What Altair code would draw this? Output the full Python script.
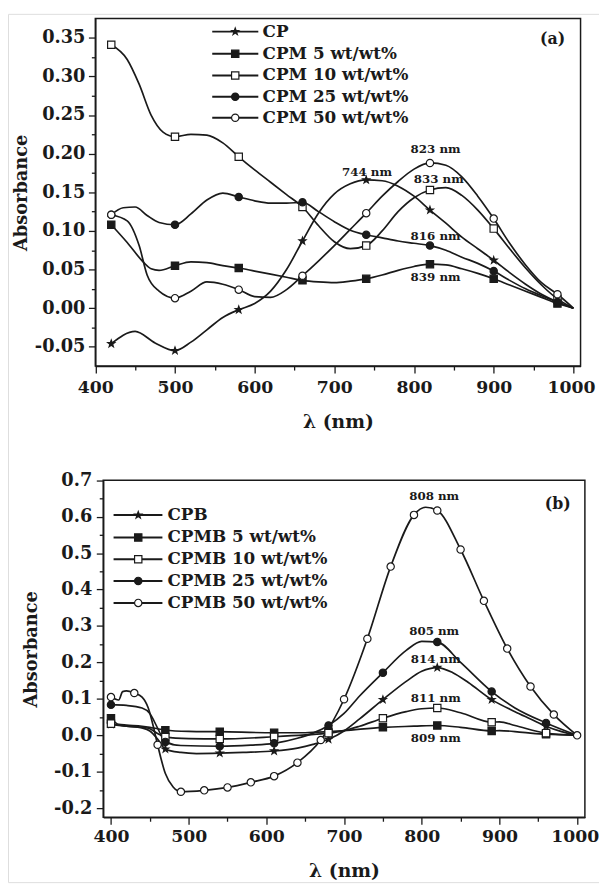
import altair as alt
import pandas as pd

FONT = "DejaVu Serif"
INK = "#1a1a1a"
STAR = ("M0,-1L0.235,-0.324L0.951,-0.309L0.38,0.124L0.588,0.809L0,0.4"
        "L-0.588,0.809L-0.38,0.124L-0.951,-0.309L-0.235,-0.324Z")

# ---------------- Panel (a) data ----------------
A_SERIES = ["CP", "CPM 5 wt/wt%", "CPM 10 wt/wt%", "CPM 25 wt/wt%", "CPM 50 wt/wt%"]
A_MARKER_NM = [420, 500, 580, 660, 740, 820, 900, 980]

A_CP_NM = [420, 450, 475, 500, 520, 540, 560, 580, 600, 620, 640, 660, 680, 700, 720,
           740, 760, 780, 800, 820, 840, 860, 880, 900, 920, 940, 960, 980, 1000]
A_CP_ABS = [-0.046, -0.030, -0.045, -0.055, -0.044, -0.028, -0.012, -0.002, 0.006, 0.022,
            0.050, 0.087, 0.123, 0.148, 0.161, 0.166, 0.165, 0.158, 0.145, 0.127,
            0.110, 0.092, 0.077, 0.062, 0.046, 0.031, 0.018, 0.008, 0.0]

A_CPM5_NM = [420, 440, 460, 470, 480, 500, 520, 540, 560, 580, 600, 620, 640, 660, 680,
             700, 720, 740, 760, 780, 800, 820, 840, 860, 880, 900, 920, 940, 960, 980, 1000]
A_CPM5_ABS = [0.108, 0.085, 0.060, 0.051, 0.049, 0.055, 0.060, 0.059, 0.055, 0.052,
              0.048, 0.044, 0.040, 0.036, 0.034, 0.033, 0.035, 0.038, 0.043, 0.049,
              0.054, 0.057, 0.056, 0.051, 0.045, 0.038, 0.030, 0.022, 0.014, 0.006, 0.0]

A_CPM10_NM = [420, 440, 455, 470, 485, 500, 520, 540, 560, 580, 600, 620, 640, 660, 680,
              700, 720, 740, 760, 780, 800, 820, 840, 860, 880, 900, 920, 940, 960, 980, 1000]
A_CPM10_ABS = [0.341, 0.322, 0.290, 0.250, 0.228, 0.222, 0.225, 0.224, 0.214, 0.196,
               0.179, 0.163, 0.147, 0.131, 0.107, 0.086, 0.077, 0.081, 0.100, 0.125,
               0.143, 0.153, 0.156, 0.146, 0.127, 0.103, 0.077, 0.052, 0.030, 0.012, 0.0]

A_CPM25_NM = [420, 435, 450, 465, 480, 500, 520, 540, 560, 580, 600, 620, 640, 660, 680,
              700, 720, 740, 760, 780, 800, 820, 840, 860, 880, 900, 920, 940, 960, 980, 1000]
A_CPM25_ABS = [0.121, 0.130, 0.131, 0.120, 0.111, 0.108, 0.122, 0.140, 0.149, 0.144,
               0.139, 0.136, 0.136, 0.137, 0.125, 0.112, 0.101, 0.095, 0.091, 0.087,
               0.084, 0.081, 0.075, 0.066, 0.058, 0.048, 0.036, 0.025, 0.016, 0.008, 0.0]

A_CPM50_NM = [420, 440, 455, 465, 480, 500, 520, 540, 560, 580, 600, 620, 640, 660, 680,
              700, 720, 740, 760, 780, 800, 820, 840, 860, 880, 900, 920, 940, 960, 980, 1000]
A_CPM50_ABS = [0.121, 0.113, 0.081, 0.043, 0.022, 0.013, 0.022, 0.034, 0.031, 0.024,
               0.015, 0.014, 0.024, 0.042, 0.061, 0.081, 0.102, 0.123, 0.145, 0.164,
               0.180, 0.188, 0.185, 0.170, 0.145, 0.116, 0.084, 0.056, 0.033, 0.018, 0.0]

A_ANN_TEXT = ["823 nm", "744 nm", "833 nm", "816 nm", "839 nm"]
A_ANN_NM = [827, 741, 831, 827, 827]
A_ANN_ABS = [0.206, 0.176, 0.167, 0.094, 0.040]
A_TAG = ["(a)"]
A_TAG_NM = [974]
A_TAG_ABS = [0.349]

# ---------------- Panel (b) data ----------------
B_SERIES = ["CPB", "CPMB 5 wt/wt%", "CPMB 10 wt/wt%", "CPMB 25 wt/wt%", "CPMB 50 wt/wt%"]
B_MARKER_NM = [400, 470, 540, 610, 680, 750, 820, 890, 960]
B_MARKER50_NM = [400, 430, 460, 490, 520, 550, 580, 610, 640, 670, 700, 730, 760, 790,
                 820, 850, 880, 910, 940, 970, 1000]

B_CPB_NM = [400, 420, 440, 450, 460, 470, 490, 510, 540, 570, 610, 640, 660, 680, 700,
            720, 750, 780, 800, 820, 840, 860, 890, 920, 940, 960, 980, 1000]
B_CPB_ABS = [0.030, 0.025, 0.020, 0.012, -0.010, -0.038, -0.047, -0.050, -0.049, -0.047,
             -0.043, -0.035, -0.025, -0.011, 0.012, 0.045, 0.098, 0.148, 0.176, 0.186,
             0.172, 0.145, 0.098, 0.065, 0.045, 0.025, 0.010, 0.0]

B_CPMB5_NM = [400, 410, 420, 440, 450, 460, 470, 500, 540, 610, 650, 680, 700, 750, 790,
              820, 850, 890, 900, 930, 960, 1000]
B_CPMB5_ABS = [0.047, 0.030, 0.028, 0.025, 0.022, 0.018, 0.014, 0.011, 0.010, 0.007,
               0.007, 0.010, 0.013, 0.022, 0.025, 0.027, 0.022, 0.012, 0.013, 0.008,
               0.003, 0.0]

B_CPMB10_NM = [400, 420, 440, 450, 460, 470, 500, 540, 610, 650, 680, 700, 720, 750, 780,
               800, 820, 850, 890, 900, 920, 960, 1000]
B_CPMB10_ABS = [0.032, 0.025, 0.022, 0.018, 0.005, -0.005, -0.009, -0.010, -0.004, 0.001,
                0.006, 0.013, 0.025, 0.047, 0.065, 0.073, 0.075, 0.062, 0.036, 0.037,
                0.027, 0.006, 0.0]

B_CPMB25_NM = [400, 420, 440, 450, 460, 470, 490, 540, 580, 610, 640, 660, 680, 700, 720,
               750, 780, 800, 820, 850, 890, 920, 960, 1000]
B_CPMB25_ABS = [0.084, 0.082, 0.075, 0.060, 0.020, -0.018, -0.028, -0.030, -0.027, -0.022,
                -0.008, 0.006, 0.027, 0.060, 0.108, 0.172, 0.233, 0.258, 0.256, 0.200,
                0.120, 0.075, 0.034, 0.0]

B_CPMB50_NM = [400, 410, 415, 420, 430, 440, 448, 455, 460, 470, 480, 490, 520, 550, 580,
               610, 640, 670, 700, 730, 760, 790, 805, 820, 850, 880, 910, 940, 970, 1000]
B_CPMB50_ABS = [0.105, 0.097, 0.120, 0.122, 0.116, 0.105, 0.075, 0.020, -0.026, -0.105,
                -0.142, -0.155, -0.151, -0.143, -0.129, -0.112, -0.075, -0.013, 0.099, 0.265,
                0.463, 0.605, 0.626, 0.617, 0.510, 0.369, 0.238, 0.134, 0.057, 0.0]

B_ANN_TEXT = ["808 nm", "805 nm", "814 nm", "811 nm", "809 nm"]
B_ANN_NM = [816, 816, 818, 818, 818]
B_ANN_ABS = [0.656, 0.287, 0.208, 0.102, -0.007]
B_TAG = ["(b)"]
B_TAG_NM = [975]
B_TAG_ABS = [0.635]

X_TICKS = [400, 450, 500, 550, 600, 650, 700, 750, 800, 850, 900, 950, 1000]
A_Y_TICKS = [-0.05, -0.025, 0.0, 0.025, 0.05, 0.075, 0.10, 0.125, 0.15, 0.175, 0.20,
             0.225, 0.25, 0.275, 0.30, 0.325, 0.35]
B_Y_TICKS = [-0.2, -0.15, -0.1, -0.05, 0.0, 0.05, 0.1, 0.15, 0.2, 0.25, 0.3, 0.35, 0.4,
             0.45, 0.5, 0.55, 0.6, 0.65, 0.7]

SHAPES = [STAR, "square", "square", "circle", "circle"]
FILLS = [INK, INK, "white", INK, "white"]

PAGE_MARGIN = 8
FIG_W, FIG_H = 607 - PAGE_MARGIN, 888 - PAGE_MARGIN


def build_panel(names, nms, abss, markers, ann, tag, xdom, ydom, yticks, ymult, yfmt,
                box, leg_rows, leg_x, ytitle_x, xtitle_y, ylabpad, xlabpad):
    # layout positions are given in page pixels; the chart itself starts at the page margin
    left, right, top, bottom = [v - PAGE_MARGIN for v in box]
    leg_rows = [v - PAGE_MARGIN for v in leg_rows]
    leg_x = [v - PAGE_MARGIN for v in leg_x]

    rows, mrows = [], []
    for name, nm, ab, mk in zip(names, nms, abss, markers):
        for a, b in zip(nm, ab):
            rows.append({"series": name, "nm": a, "abs": b})
            if a in mk:
                mrows.append({"series": name, "nm": a, "abs": b})
    df = pd.DataFrame(rows)
    mdf = pd.DataFrame(mrows)
    ann_df = pd.DataFrame({"label": ann[0], "nm": ann[1], "abs": ann[2]})
    tag_df = pd.DataFrame({"label": tag[0], "nm": tag[1], "abs": tag[2]})
    frame_df = pd.DataFrame({"nm": [xdom[0]], "nm2": [xdom[1]],
                             "abs": [ydom[0]], "abs2": [ydom[1]]})

    xs = alt.Scale(domain=xdom, range=[left, right], nice=False, zero=False)
    ys = alt.Scale(domain=ydom, range=[bottom, top], nice=False, zero=False)
    shape_scale = alt.Scale(domain=names, range=SHAPES)
    fill_scale = alt.Scale(domain=names, range=FILLS)

    x_major_test = "datum.value % 100 === 0"
    y_major_test = f"abs(round(datum.value * {ymult})) % 2 === 0"

    x_axis = alt.Axis(orient="bottom", offset=bottom - FIG_H, values=X_TICKS, grid=False,
                      labelExpr=f"{x_major_test} ? format(datum.value, 'd') : ''",
                      tickSize={"condition": {"test": x_major_test, "value": 7}, "value": 4},
                      labelOffset={"condition": {"test": "datum.value === 1000",
                                                 "value": -2.5}, "value": 0},
                      tickWidth=1.3, tickColor=INK,
                      domainColor=INK, domainWidth=1.5,
                      labelFont=FONT, labelFontSize=17.5, labelFontWeight="bold",
                      labelColor=INK, labelPadding=xlabpad, labelFlush=False,
                      labelOverlap=False,
                      title="λ (nm)", titleFont=FONT, titleFontSize=19,
                      titleFontWeight="bold", titleColor=INK,
                      titleX=(left + right) / 2, titleY=xtitle_y,
                      titleBaseline="middle", titleAlign="center")
    y_axis = alt.Axis(orient="left", offset=-left, values=yticks, grid=False,
                      labelExpr=(f"{y_major_test} ? replace(format(datum.value, '{yfmt}'),"
                                 f" '\u2212', '-') : ''"),
                      tickSize={"condition": {"test": y_major_test, "value": 7}, "value": 4},
                      tickWidth=1.3, tickColor=INK,
                      domainColor=INK, domainWidth=1.5,
                      labelFont=FONT, labelFontSize=18, labelFontWeight="bold",
                      labelColor=INK, labelPadding=ylabpad, labelOverlap=False,
                      title="Absorbance", titleFont=FONT, titleFontSize=18,
                      titleFontWeight="bold", titleColor=INK,
                      titleX=ytitle_x, titleY=(top + bottom) / 2,
                      titleBaseline="middle", titleAlign="center")

    frame = alt.Chart(frame_df).mark_rect(fillOpacity=0, stroke=INK, strokeWidth=1.5).encode(
        x=alt.X("nm:Q", scale=xs), x2="nm2:Q",
        y=alt.Y("abs:Q", scale=ys), y2="abs2:Q",
    )
    line = alt.Chart(df).mark_line(interpolate="monotone", color=INK, strokeWidth=1.7).encode(
        x=alt.X("nm:Q", scale=xs, axis=x_axis),
        y=alt.Y("abs:Q", scale=ys, axis=y_axis),
        detail="series:N",
    )
    pts = alt.Chart(mdf).mark_point(filled=True, size=55, opacity=1, stroke=INK,
                                    strokeWidth=1.2).encode(
        x=alt.X("nm:Q", scale=xs),
        y=alt.Y("abs:Q", scale=ys),
        shape=alt.Shape("series:N", scale=shape_scale, legend=None),
        fill=alt.Fill("series:N", scale=fill_scale, legend=None),
    )
    ann_layer = alt.Chart(ann_df).mark_text(font=FONT, fontSize=12, fontWeight="bold",
                                            color=INK).encode(
        x=alt.X("nm:Q", scale=xs),
        y=alt.Y("abs:Q", scale=ys),
        text="label:N",
    )
    tag_layer = alt.Chart(tag_df).mark_text(font=FONT, fontSize=16, fontWeight="bold",
                                            color=INK).encode(
        x=alt.X("nm:Q", scale=xs),
        y=alt.Y("abs:Q", scale=ys),
        text="label:N",
    )

    legend_layers = []
    for name, ry in zip(names, leg_rows):
        ldf = pd.DataFrame({"series": [name]})
        legend_layers.append(alt.Chart(ldf).mark_rule(color=INK, strokeWidth=2).encode(
            x=alt.value(leg_x[0]), x2=alt.value(leg_x[1]), y=alt.value(ry)))
        legend_layers.append(alt.Chart(ldf).mark_point(filled=True, size=55, opacity=1,
                                                       stroke=INK, strokeWidth=1.2).encode(
            x=alt.value(leg_x[2]), y=alt.value(ry),
            shape=alt.Shape("series:N", scale=shape_scale, legend=None),
            fill=alt.Fill("series:N", scale=fill_scale, legend=None)))
        legend_layers.append(alt.Chart(ldf).mark_text(align="left", baseline="middle",
                                                      font=FONT, fontSize=17,
                                                      fontWeight="bold", color=INK).encode(
            x=alt.value(leg_x[3]), y=alt.value(ry), text="series:N"))

    return alt.layer(line, frame, pts, ann_layer, tag_layer, *legend_layers)


panel_a = build_panel(
    A_SERIES,
    [A_CP_NM, A_CPM5_NM, A_CPM10_NM, A_CPM25_NM, A_CPM50_NM],
    [A_CP_ABS, A_CPM5_ABS, A_CPM10_ABS, A_CPM25_ABS, A_CPM50_ABS],
    [A_MARKER_NM] * 5,
    (A_ANN_TEXT, A_ANN_NM, A_ANN_ABS), (A_TAG, A_TAG_NM, A_TAG_ABS),
    [400, 1009], [-0.075, 0.375], A_Y_TICKS, 40, ".2f",
    (96.5, 588.3, 12.7, 365.0),
    [26.0, 48.5, 70.5, 92.0, 113.3], [215.0, 261.7, 238.3, 266.0],
    -74.5, 56.5, 3.5, 6,
)

panel_b = build_panel(
    B_SERIES,
    [B_CPB_NM, B_CPMB5_NM, B_CPMB10_NM, B_CPMB25_NM, B_CPMB50_NM],
    [B_CPB_ABS, B_CPMB5_ABS, B_CPMB10_ABS, B_CPMB25_ABS, B_CPMB50_ABS],
    [B_MARKER_NM, B_MARKER_NM, B_MARKER_NM, B_MARKER_NM, B_MARKER50_NM],
    (B_ANN_TEXT, B_ANN_NM, B_ANN_ABS), (B_TAG, B_TAG_NM, B_TAG_ABS),
    [390, 1010], [-0.225, 0.7], B_Y_TICKS, 20, ".1f",
    (104.5, 592.7, 480.7, 822.3),
    [516.0, 538.7, 560.7, 582.7, 605.0], [115.0, 164.5, 140.0, 169.6],
    -72.5, 53.7, 4.6, 4,
)

chart = alt.layer(panel_a, panel_b).resolve_scale(
    x="independent", y="independent", shape="independent", fill="independent"
).properties(
    width=FIG_W, height=FIG_H, padding=0,
    autosize=alt.AutoSizeParams(type="none"),
).configure_view(strokeWidth=0).configure(background="white")

chart.save("out.html", embed_options={"renderer": "svg", "actions": False})
